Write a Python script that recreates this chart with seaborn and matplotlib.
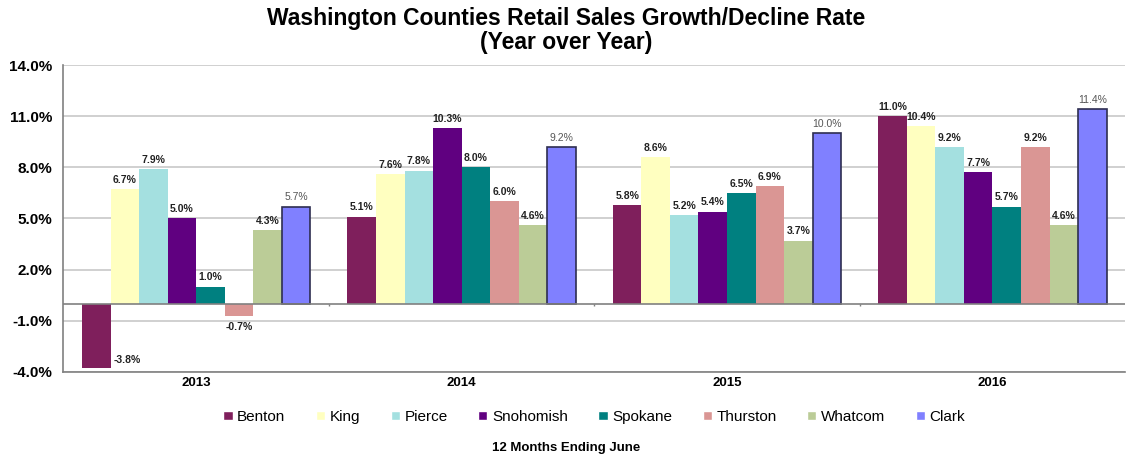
import numpy as np
import pandas as pd
import matplotlib.pyplot as plt
import seaborn as sns

years = ["2013", "2014", "2015", "2016"]
counties = ["Benton", "King", "Pierce", "Snohomish", "Spokane", "Thurston", "Whatcom", "Clark"]
benton = [-3.8, 5.1, 5.8, 11.0]
king = [6.7, 7.6, 8.6, 10.4]
pierce = [7.9, 7.8, 5.2, 9.2]
snohomish = [5.0, 10.3, 5.4, 7.7]
spokane = [1.0, 8.0, 6.5, 5.7]
thurston = [-0.7, 6.0, 6.9, 9.2]
whatcom = [4.3, 4.6, 3.7, 4.6]
clark = [5.7, 9.2, 10.0, 11.4]
colors = ["#7F1F5C", "#FFFFC0", "#A4E0E0", "#600080", "#008080", "#DA9694", "#BBCC97", "#8080FF"]
y_ticks = [-4.0, -1.0, 2.0, 5.0, 8.0, 11.0, 14.0]

series = [benton, king, pierce, snohomish, spokane, thurston, whatcom, clark]
rows = []
for name, vals in zip(counties, series):
    for yr, v in zip(years, vals):
        rows.append({"Year": yr, "County": name, "Growth": v})
df = pd.DataFrame(rows)

sns.set_theme(style="white")
plt.rcParams["font.family"] = ["Liberation Sans", "DejaVu Sans"]
plt.rcParams["text.color"] = "black"
plt.rcParams["xtick.color"] = "black"
plt.rcParams["ytick.color"] = "black"

fig = plt.figure(figsize=(11.32, 4.58), dpi=100)
ax = fig.add_axes([0.056, 0.188, 0.938, 0.670])

sns.barplot(data=df, x="Year", y="Growth", hue="County", order=years,
            hue_order=counties, palette=colors, width=0.86, saturation=1,
            ax=ax, legend=True, errorbar=None)

for i, cont in enumerate(ax.containers):
    name = counties[i]
    for patch, v in zip(cont.patches, series[i]):
        if name == "Clark":
            patch.set_edgecolor("#2E2E50")
            patch.set_linewidth(1.2)
        else:
            patch.set_edgecolor("none")
        x = patch.get_x() + patch.get_width() / 2
        kw = dict(fontsize=7.5, fontweight="bold", color="#222222")
        if name == "Clark":
            kw = dict(fontsize=7.5, color="#555555")
        if v >= 0:
            ax.text(x, v + 0.25, f"{v:.1f}%", ha="center", va="bottom", **kw)
        elif v < -2:
            ax.text(x + patch.get_width() * 0.6, v + 0.2, f"{v:.1f}%",
                    ha="left", va="bottom", **kw)
        else:
            ax.text(x, v - 0.35, f"{v:.1f}%", ha="center", va="top", **kw)

ax.set_ylim(-4, 14)
ax.set_xlim(-0.5, 3.5)
ax.set_yticks(y_ticks)
ax.set_yticklabels([f"{t:.1f}%" for t in y_ticks], fontsize=11, fontweight="bold")
ax.yaxis.grid(True, color="#C8C8C8", linewidth=1.2)
ax.set_axisbelow(True)
ax.axhline(0, color="#808080", linewidth=1.2, zorder=1)
ax.vlines([0.5, 1.5, 2.5], -0.15, 0, color="#808080", linewidth=1)

ax.tick_params(axis="x", length=0, pad=4)
ax.tick_params(axis="y", length=0, pad=8)
for lbl in ax.get_xticklabels():
    lbl.set_fontweight("bold")
    lbl.set_fontsize(9.5)

for s in ["top", "right"]:
    ax.spines[s].set_visible(False)
for s in ["left", "bottom"]:
    ax.spines[s].set_color("#808080")
    ax.spines[s].set_linewidth(1.2)

ax.set_xlabel("")
ax.set_ylabel("")

handles, labels = ax.get_legend_handles_labels()
ax.legend(handles, labels, loc="center", bbox_to_anchor=(0.5, -0.147),
          ncol=8, frameon=False, fontsize=11, handlelength=0.6,
          handleheight=0.6, handletextpad=0.3, columnspacing=2.0)

fig.text(0.5, 0.022, "12 Months Ending June", ha="center", va="center",
         fontsize=9.5, fontweight="bold")
fig.suptitle("Washington Counties Retail Sales Growth/Decline Rate\n(Year over Year)",
             y=0.985, fontsize=16.5, fontweight="bold", linespacing=1.08)

fig.savefig("out.png", dpi=100)
